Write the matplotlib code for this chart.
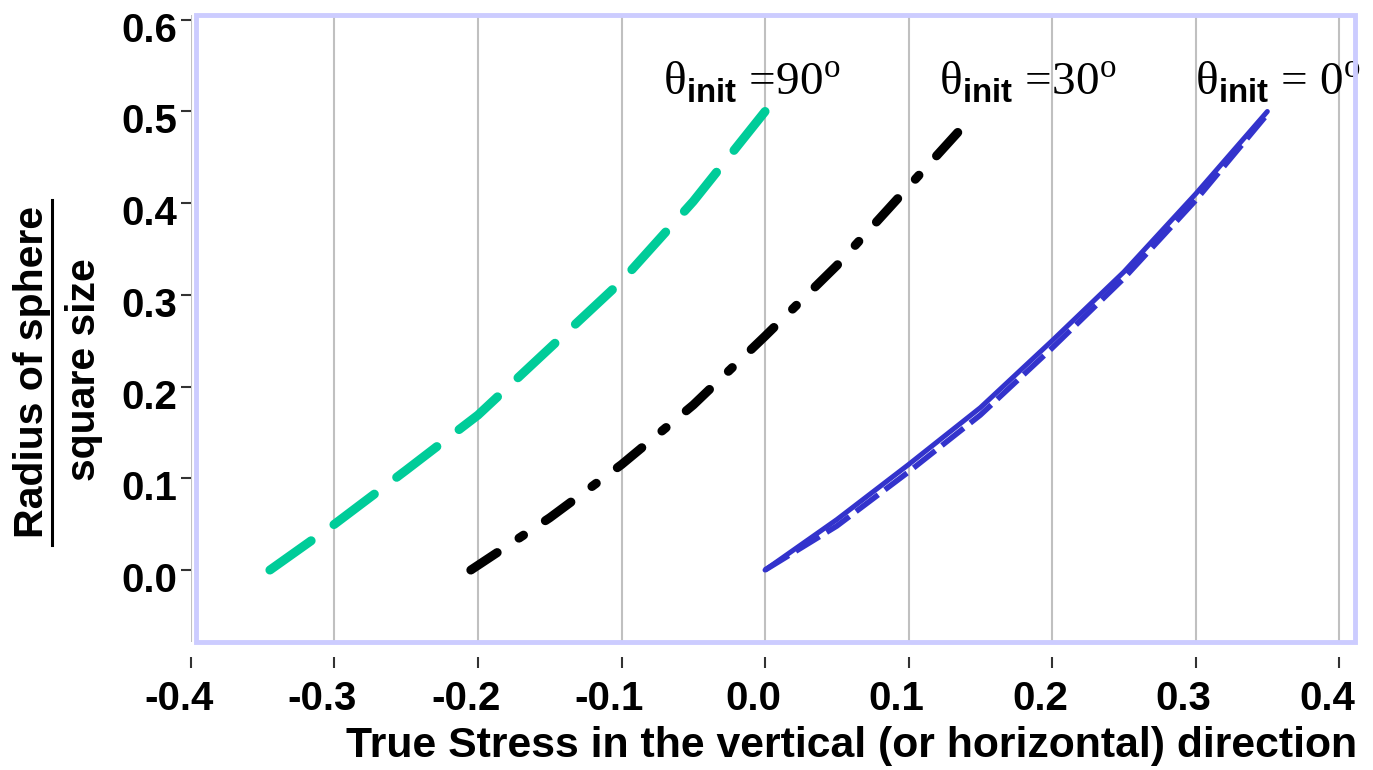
import matplotlib
matplotlib.use("Agg")
import matplotlib.pyplot as plt
from matplotlib.patches import Rectangle
from matplotlib.lines import Line2D
import matplotlib.transforms as mtransforms

plt.rcParams['axes.unicode_minus'] = False
plt.rcParams['font.family'] = ['Liberation Sans', 'DejaVu Sans']
plt.rcParams['mathtext.fontset'] = 'custom'
plt.rcParams['mathtext.rm'] = 'Liberation Serif'
plt.rcParams['mathtext.bf'] = 'Liberation Sans:bold'

# data
green_x = [-0.345, -0.3, -0.25, -0.2, -0.15, -0.1, -0.05, 0.0]
green_y = [0.0, 0.05, 0.109, 0.169, 0.242, 0.315, 0.402, 0.5]

black_x = [-0.205, -0.15, -0.1, -0.05, 0.0, 0.05, 0.1, 0.14]
black_y = [0.0, 0.057, 0.115, 0.18, 0.255, 0.332, 0.418, 0.487]

blue_x = [0.0, 0.05, 0.1, 0.15, 0.2, 0.25, 0.3, 0.35]
blue_y = [0.0, 0.055, 0.115, 0.177, 0.25, 0.325, 0.41, 0.5]
blue2_y = [0.0, 0.048, 0.107, 0.169, 0.242, 0.318, 0.403, 0.497]

xticks = [-0.4, -0.3, -0.2, -0.1, 0.0, 0.1, 0.2, 0.3, 0.4]
yticks = [0.0, 0.1, 0.2, 0.3, 0.4, 0.5, 0.6]

labels = [r"θ$_{\mathbf{init}}$ =90$^{\mathrm{o}}$",
          r"θ$_{\mathbf{init}}$ =30$^{\mathrm{o}}$",
          r"θ$_{\mathbf{init}}$ = 0$^{\mathrm{o}}$"]
label_x = [-0.071, 0.121, 0.2997]
label_y = [0.518, 0.518, 0.518]

green = '#00CC99'
blue = '#3333CC'

fig = plt.figure(figsize=(13.73, 7.70), dpi=100)
ax = fig.add_axes([0.1391, 0.1662, 0.8478, 0.8143])
ax.set_xlim(-0.4, 0.4111)
ax.set_ylim(-0.0785, 0.6052)

ax.grid(axis='x', color='#C0C0C0', lw=1.5)
ax.set_axisbelow(True)

ax.plot(green_x, green_y, color=green, lw=6.5, dashes=(5.6, 3.1),
        dash_capstyle='round')
ax.plot(black_x, black_y, color='black', lw=6.5, dashes=(3.5, 2.9, 0.6, 2.9),
        dash_capstyle='round')
ax.plot(blue_x, blue2_y, color=blue, lw=4, dashes=(5, 1.5), dash_capstyle='butt')
ax.plot(blue_x, blue_y, color=blue, lw=3.6, solid_capstyle='round')

for s, x, y in zip(labels, label_x, label_y):
    t = ax.text(x, y, s, fontsize=34, family='Liberation Serif',
                ha='left', va='baseline')
    t.set_clip_path(ax.patch)

for sp in ax.spines.values():
    sp.set_visible(False)
ax.spines['bottom'].set_position(('outward', 11))

ax.add_patch(Rectangle((0.004, 0), 0.996, 1, transform=ax.transAxes,
                       fill=False, edgecolor='#CCCCFF', lw=3.5, clip_on=False,
                       zorder=5))

ax.set_xticks(xticks)
ax.set_yticks(yticks)
ax.set_xticklabels(['%.1f' % v for v in xticks])
ax.set_yticklabels(['%.1f' % v for v in yticks])
ax.tick_params(axis='x', direction='out', length=8, width=1.5, color='#333333',
               pad=8, labelsize=29)
ax.tick_params(axis='y', direction='out', length=7, width=1.5, color='#333333',
               pad=3, labelsize=29)
for lab in ax.get_xticklabels() + ax.get_yticklabels():
    lab.set_fontweight('bold')
yoff = mtransforms.ScaledTranslation(0, -7 / 100, fig.dpi_scale_trans)
for lab in ax.get_yticklabels():
    lab.set_transform(lab.get_transform() + yoff)
xoff = mtransforms.ScaledTranslation(-12 / 100, 0, fig.dpi_scale_trans)
for lab in ax.get_xticklabels():
    lab.set_transform(lab.get_transform() + xoff)

# axis titles
fig.text(852 / 1373, 1 - 757 / 770,
         "True Stress in the vertical (or horizontal) direction",
         ha='center', va='baseline', fontsize=30.8, fontweight='bold')
fig.text(32 / 1373, 1 - 372 / 770, "Radius of sphere", rotation=90,
         ha='center', va='center', fontsize=29.5, fontweight='bold')
fig.text(84 / 1373, 1 - 370 / 770, "square size", rotation=90,
         ha='center', va='center', fontsize=29.5, fontweight='bold')
fig.add_artist(Line2D([52 / 1373, 52 / 1373], [1 - 545 / 770, 1 - 200 / 770],
                      color='black', lw=2.2, transform=fig.transFigure))

fig.savefig("out.png", dpi=100)
